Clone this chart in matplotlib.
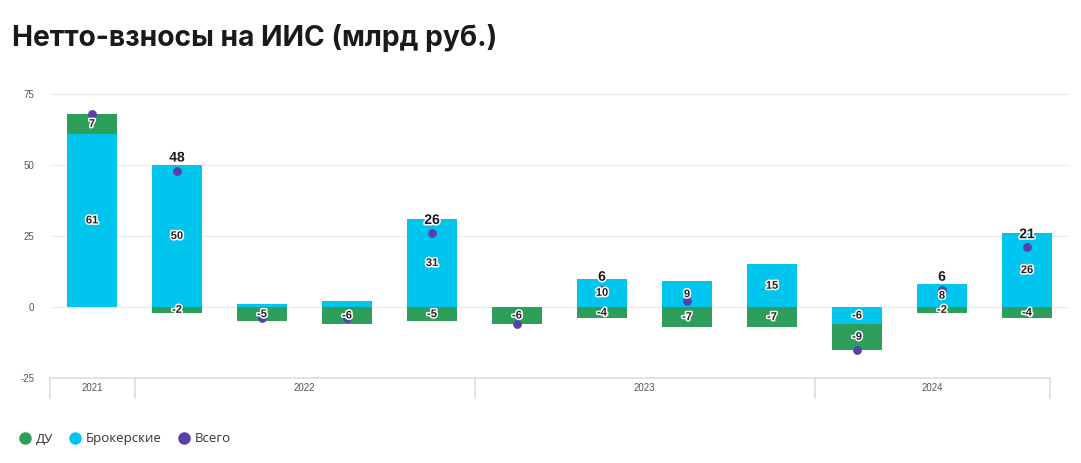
import matplotlib.pyplot as plt
import matplotlib.patheffects as pe
from matplotlib.lines import Line2D
from matplotlib.transforms import blended_transform_factory

# Data (млрд руб.), quarters Q4 2021 .. Q4 2024
du = [7, -2, -5, -6, -5, -6, -4, -7, -7, -9, -2, -4]
broker = [61, 50, 1, 2, 31, 0, 10, 9, 15, -6, 8, 26]
total = [68, 48, -4, -4, 26, -6, 6, 2, 8, -15, 6, 21]
show_total = [False, True, False, False, True, False, True, False, False, False, True, True]
show_broker = [True, True, False, False, True, False, True, True, True, True, True, True]
years = ["2021", "2022", "2023", "2024"]
year_bounds = [-0.5, 0.5, 4.5, 8.5, 11.27]

C_DU = "#2e9f5b"
C_BR = "#00c6ef"
C_TOT = "#5a3fa9"
C_GRID = "#ebedf0"
C_AXIS = "#d9dee8"
C_TICK = "#555555"

fig = plt.figure(figsize=(10.81, 4.63), dpi=100)
fig.patch.set_facecolor("white")
ax = fig.add_axes([0.0458, 0.1836, 0.9436, 0.644])

x = list(range(len(du)))
w = 0.59

# stack: positive parts go up from 0, negative parts go down from 0
pos_base = [0.0] * len(x)
neg_base = [0.0] * len(x)
segs = []
for series, color, show in [(broker, C_BR, show_broker), (du, C_DU, [True] * len(x))]:
    bottoms = []
    for i, v in enumerate(series):
        if v >= 0:
            bottoms.append(pos_base[i])
            pos_base[i] += v
        else:
            bottoms.append(neg_base[i])
            neg_base[i] += v
    ax.bar(x, series, width=w, bottom=bottoms, color=color, zorder=2, linewidth=0)
    segs.append((series, bottoms, show))

ax.scatter(x, total, s=40, color=C_TOT, zorder=3, linewidths=0)

outline = [pe.withStroke(linewidth=2.2, foreground="white")]
for series, bottoms, show in segs:
    for i, v in enumerate(series):
        if not show[i]:
            continue
        ax.text(i, bottoms[i] + v / 2, f"{v}", ha="center", va="center",
                fontsize=8, fontweight="bold", color="#222222",
                family="Liberation Sans", zorder=4, path_effects=outline)

for i, t in enumerate(total):
    if show_total[i]:
        ax.annotate(f"{t}", (i, t), xytext=(0, 9.5), textcoords="offset points",
                    ha="center", va="center", fontsize=10, fontweight="bold",
                    color="#1a1a1a", family="Liberation Sans", zorder=5,
                    path_effects=outline)

ax.set_xlim(-0.5, 11.5)
ax.set_ylim(-25, 80)
for g in [0, 25, 50, 75]:
    ax.axhline(g, color=C_GRID, lw=0.9, zorder=0)
ax.plot([-0.5, year_bounds[-1]], [-25, -25], color=C_AXIS, lw=1.2, zorder=1, clip_on=False)

ax.set_yticks([-25, 0, 25, 50, 75])
ax.set_yticklabels(["-25", "0", "25", "50", "75"], fontsize=7, color=C_TICK,
                   family="Liberation Sans")
ax.tick_params(axis="y", length=0, pad=11)
ax.set_xticks([])
for s in ax.spines.values():
    s.set_visible(False)

# year groups under the axis
tr = blended_transform_factory(ax.transData, ax.transAxes)
for b in year_bounds:
    ax.plot([b, b], [0, -0.068], color=C_AXIS, lw=1.2, transform=tr, clip_on=False)
for k, yr in enumerate(years):
    mid = (year_bounds[k] + year_bounds[k + 1]) / 2
    ax.text(mid, -0.032, yr, transform=tr, ha="center", va="center",
            fontsize=7, color=C_TICK, family="Liberation Sans")

fig.text(0.011, 0.918, "Нетто-взносы на ИИС (млрд руб.)", fontsize=20.3,
         fontweight="bold", color="#1a1a1a", family="Inter", va="center")

handles = [Line2D([], [], marker="o", ls="", color=c, markersize=8)
           for c in [C_DU, C_BR, C_TOT]]
leg = fig.legend(handles, ["ДУ", "Брокерские", "Всего"], loc="center left",
                 bbox_to_anchor=(0.006, 0.052), ncol=3, frameon=False,
                 handletextpad=0.3, columnspacing=1.2, handlelength=1.0,
                 prop={"family": "Open Sans", "size": 9.5})
for t in leg.get_texts():
    t.set_color("#333333")

fig.savefig("out.png", dpi=100, facecolor="white")
